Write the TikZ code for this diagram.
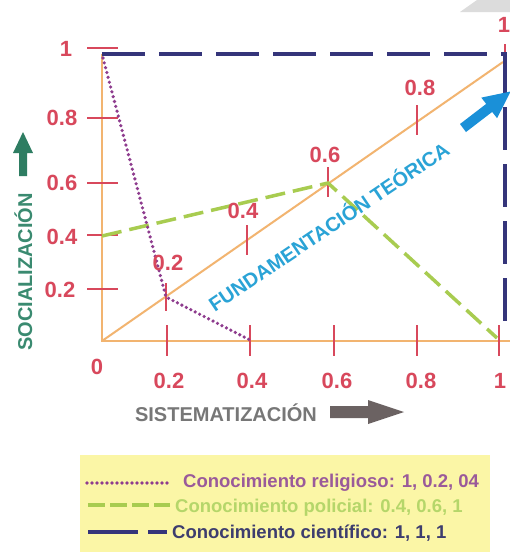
\documentclass[tikz,border=0pt]{standalone}
\usepackage{fontspec}
\setmainfont{Liberation Sans}
\definecolor{axisorange}{HTML}{F2B470}
\definecolor{tickred}{HTML}{D8485C}
\definecolor{navy}{HTML}{35357A}
\definecolor{polgreen}{HTML}{A8CC50}
\definecolor{relpurple}{HTML}{8E3C8E}
\definecolor{fundcyan}{HTML}{2AA3D6}
\definecolor{arrcyan}{HTML}{1A90D8}
\definecolor{socgreen}{HTML}{3A8A70}
\definecolor{socarrow}{HTML}{2E7D62}
\definecolor{sistgrey}{HTML}{777777}
\definecolor{sistarrow}{HTML}{6B6262}
\definecolor{legyellow}{HTML}{FBF6A6}
\definecolor{cornergrey}{HTML}{DCDCDC}
\definecolor{legpurple}{HTML}{9A5A9A}
\definecolor{leggreen}{HTML}{B5D66A}
\definecolor{legnavy}{HTML}{3D3D6E}
\begin{document}
\begin{tikzpicture}[x=1pt,y=-1pt,
  axisline/.style={draw=axisorange, line width=2pt},
  tickline/.style={draw=tickred, line width=2pt},
  lab/.style={font=\fontsize{22}{22}\selectfont\bfseries, text=tickred, inner sep=0pt},
  scistyle/.style={draw=navy, line width=4pt, dash pattern=on 43pt off 14pt},
  polstyle/.style={draw=polgreen, line width=3.5pt, dash pattern=on 20pt off 8pt},
  relstyle/.style={draw=relpurple, line width=3.6pt, line cap=round, dash pattern=on 0pt off 5pt},
  bigtext/.style={font=\fontsize{20}{20}\selectfont\bfseries, inner sep=0pt},
  legtext/.style={font=\fontsize{18.5}{18.5}\selectfont\bfseries, inner sep=0pt, anchor=base west}]
\useasboundingbox (0,0) rectangle (510,558);
\fill[white] (0,0) rectangle (510,558);
\fill[cornergrey] (460,12) -- (477,0) -- (510,0) -- (510,12) -- cycle;
% legend background
\fill[legyellow] (80,455) rectangle (490,552);

% axes
\coordinate (O) at (102,341);
\coordinate (Ytop) at (102,54);
\coordinate (Xend) at (510,341);
\coordinate (Dend) at (503,62);
\draw[axisline] (Ytop) -- (O) -- (Xend);
\draw[axisline] (O) -- (Dend);

% y ticks
\foreach \y in {48,118,183,235,289} \draw[tickline] (87,\y) -- (118,\y);
% x ticks
\foreach \x in {167,250,334,417,499} \draw[tickline] (\x,325) -- (\x,356);
% diagonal ticks
\draw[tickline] (166,283) -- (166,311);
\draw[tickline] (247,225) -- (247,255);
\draw[tickline] (328,167) -- (328,197);
\draw[tickline] (417,105) -- (417,135);
\draw[tickline] (505,44) -- (505,63);

% data lines
\coordinate (B1) at (102,54);
\coordinate (B2) at (505,54);
\coordinate (B3) at (505,322);
\draw[scistyle] (B1) -- (B2) -- (B3);
\coordinate (G1) at (102,236);
\coordinate (G2) at (328,183);
\coordinate (G3) at (497,338);
\draw[polstyle] (G1) -- (G2) -- (G3);
\coordinate (P1) at (103,58);
\coordinate (P2) at (166,297);
\coordinate (P3) at (250,340);
\draw[relstyle] (P1) -- (P2) -- (P3);

% axis labels
\node[lab] (ly1) at (66,49) {1};
\node[lab] (ly08) at (62,118) {0.8};
\node[lab] (ly06) at (62,183) {0.6};
\node[lab] (ly04) at (62,237) {0.4};
\node[lab] (ly02) at (60,290) {0.2};
\node[lab] (lx0) at (97,367) {0};
\node[lab] (lx02) at (169,381) {0.2};
\node[lab] (lx04) at (252,381) {0.4};
\node[lab] (lx06) at (337,381) {0.6};
\node[lab] (lx08) at (421,381) {0.8};
\node[lab] (lx1) at (500,381) {1};
\node[lab] (ld02) at (168,263) {0.2};
\node[lab] (ld04) at (243,211) {0.4};
\node[lab] (ld06) at (325,155) {0.6};
\node[lab] (ld08) at (420,88) {0.8};
\node[lab] (ld1) at (504,25) {1};

% fundamentacion
\node[bigtext, text=fundcyan, rotate=34, anchor=base] (fund) at (333,233) {FUNDAMENTACIÓN TEÓRICA};
\fill[arrcyan] (466,132) -- (492.2,111.9) -- (497.1,118.2) -- (510.6,91.5) -- (481.3,97.6) -- (486.2,103.9) -- (460,124) -- cycle;

% socializacion
\node[bigtext, text=socgreen, rotate=90, anchor=base] (soc) at (32,272) {SOCIALIZACIÓN};
\fill[socarrow] (19,176) -- (19,153) -- (13,153) -- (23,132) -- (33,153) -- (27,153) -- (27,176) -- cycle;

% sistematizacion
\node[bigtext, text=sistgrey] (sist) at (226,413) {SISTEMATIZACIÓN};
\fill[sistarrow] (330,406) -- (368,406) -- (368,400) -- (404,412) -- (368,424) -- (368,418) -- (330,418) -- cycle;

% legend
\coordinate (L1a) at (87,483);
\coordinate (L1b) at (167,483);
\draw[relstyle] (L1a) -- (L1b);
\node[legtext, text=legpurple] (t1) at (183,487) {Conocimiento religioso: 1, 0.2, 04};
\coordinate (L2a) at (88,505);
\coordinate (L2b) at (170,505);
\draw[draw=polgreen, line width=3.5pt, dash pattern=on 17pt off 5pt] (L2a) -- (L2b);
\node[legtext, text=leggreen] (t2) at (175,512) {Conocimiento policial: 0.4, 0.6, 1};
\coordinate (L3a) at (88,532);
\coordinate (L3b) at (138,532);
\coordinate (L3c) at (148,532);
\coordinate (L3d) at (167,532);
\draw[draw=navy, line width=4pt] (L3a) -- (L3b);
\draw[draw=navy, line width=4pt] (L3c) -- (L3d);
\node[legtext, text=legnavy] (t3) at (172,538) {Conocimiento científico: 1, 1, 1};
\end{tikzpicture}
\end{document}
